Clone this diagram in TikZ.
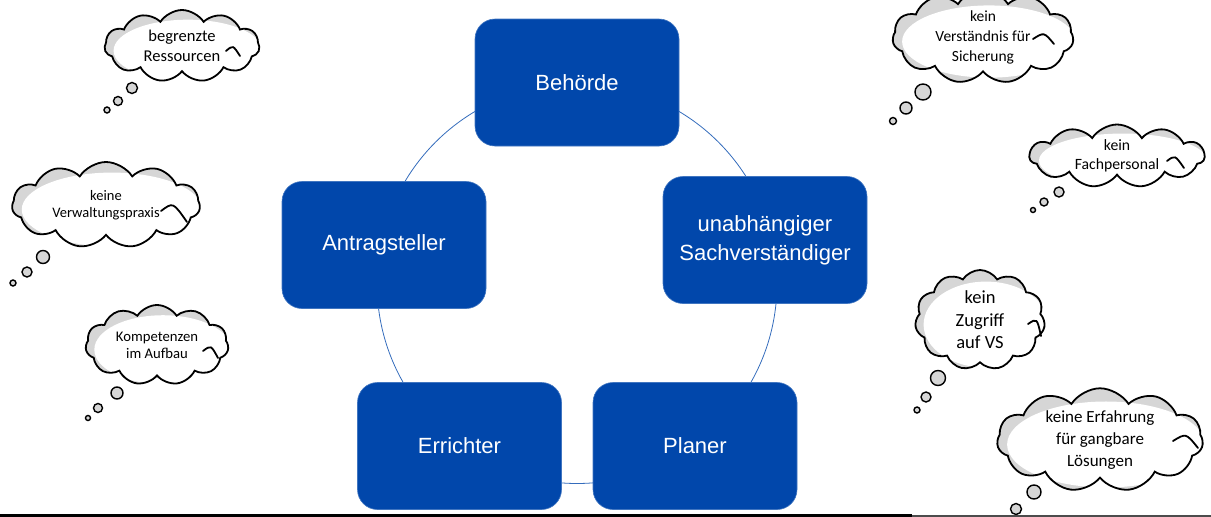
\documentclass[tikz,border=0pt]{standalone}
\usepackage{fontspec}
\setmainfont{Liberation Sans}
\newfontfamily\wolkenfont{Carlito}
\usetikzlibrary{shapes.symbols}
\definecolor{akteurblau}{RGB}{1,71,171}
\definecolor{schatten}{RGB}{214,214,214}
\tikzset{
  akteur/.style={rounded corners=20, fill=akteurblau, draw=akteurblau!75!white, line width=0.6pt, text=white, align=center, minimum width=204, minimum height=127, font=\fontsize{22}{29}\selectfont},
  wolke/.style 2 args={cloud, cloud puffs=11, cloud puff arc=115, cloud ignores aspect, draw=black, line width=1.8pt, fill=schatten, inner sep=0pt, minimum width=#1, minimum height=#2, align=center, path picture={\fill[white] ([xshift=6pt,yshift=-5pt]path picture bounding box.center) ellipse [x radius=0.48*#1pt, y radius=0.43*#2pt];}},
  blase/.style={draw=black, line width=1.4pt, fill=schatten},
  haken/.style={draw=black, line width=1.8pt, line cap=round},
  kreis/.style={draw=akteurblau!80!white, line width=0.8pt}
}
\begin{document}
\begin{tikzpicture}[x=1pt,y=-1pt]
\useasboundingbox (0,0) rectangle (1211,517);

\coordinate (mitte) at (577,283.5);
\draw[kreis] (mitte) circle [radius=200];

\node[akteur] (behoerde) at (577,82.5) {Behörde};
\node[akteur] (sachverst) at (765,240) {unabhängiger\\Sachverständiger};
\node[akteur] (planer) at (695,446) {Planer};
\node[akteur] (errichter) at (459.5,446) {Errichter};
\node[akteur] (antrag) at (384,245) {Antragsteller};

\node[wolke={155}{72}, font=\wolkenfont\fontsize{16.5}{20}\selectfont] (ressourcen) at (182,46) {begrenzte\\Ressourcen};
\node[wolke={188}{86}, font=\wolkenfont\fontsize{14.5}{17.5}\selectfont] (verwaltung) at (106,205) {keine\\Verwaltungspraxis};
\node[wolke={143}{80}, font=\wolkenfont\fontsize{14.7}{17}\selectfont] (kompetenz) at (157,345) {Kompetenzen\\im Aufbau};
\node[wolke={181}{84}, font=\wolkenfont\fontsize{15.5}{20}\selectfont] (verstaendnis) at (983,37) {kein\\Verständnis für\\Sicherung};
\node[wolke={175}{63}, font=\wolkenfont\fontsize{15.7}{18.5}\selectfont] (fachpersonal) at (1117,156) {kein\\Fachpersonal};
\node[wolke={130}{100}, font=\wolkenfont\fontsize{18.5}{22.5}\selectfont] (zugriff) at (980,320) {kein\\Zugriff\\auf VS};
\node[wolke={206}{100}, font=\wolkenfont\fontsize{17}{22}\selectfont] (erfahrung) at (1100,440) {keine Erfahrung\\für gangbare\\Lösungen};

\draw[haken] (226,51) .. controls (233,45) .. (240,56);
\draw[haken] (161,211) .. controls (173,202) .. (187,222);
\draw[haken] (203,351) .. controls (211,345) .. (218,358);
\draw[haken] (1033,39) .. controls (1044,32) .. (1054,44);
\draw[haken] (1167,161) .. controls (1175,155) .. (1184,168);
\draw[haken] (1028,324) .. controls (1037,318) .. (1041,336);
\draw[haken] (1173,441) .. controls (1186,433) .. (1198,448);

\draw[blase] (132,88) circle [radius=5.5];
\draw[blase] (118,101) circle [radius=4.5];
\draw[blase] (107,110) circle [radius=3];
\draw[blase] (43,257) circle [radius=6.5];
\draw[blase] (27,272) circle [radius=5];
\draw[blase] (13,283) circle [radius=3];
\draw[blase] (117,393) circle [radius=6];
\draw[blase] (98,408) circle [radius=4.5];
\draw[blase] (88,418) circle [radius=2.5];
\draw[blase] (923,92) circle [radius=8];
\draw[blase] (906,108) circle [radius=6];
\draw[blase] (893,121) circle [radius=3.5];
\draw[blase] (1059,192) circle [radius=5];
\draw[blase] (1044,202) circle [radius=4];
\draw[blase] (1033,210) circle [radius=2.5];
\draw[blase] (938,378) circle [radius=7.5];
\draw[blase] (926,397) circle [radius=5];
\draw[blase] (917,410) circle [radius=3];
\draw[blase] (1034,492) circle [radius=7];
\draw[blase] (1016,509) circle [radius=5.5];

\draw[line width=3pt] (0,515.5) -- (912,515.5);
\draw[line width=2pt, gray!60!black] (912,516) -- (1211,516);
\end{tikzpicture}
\end{document}
